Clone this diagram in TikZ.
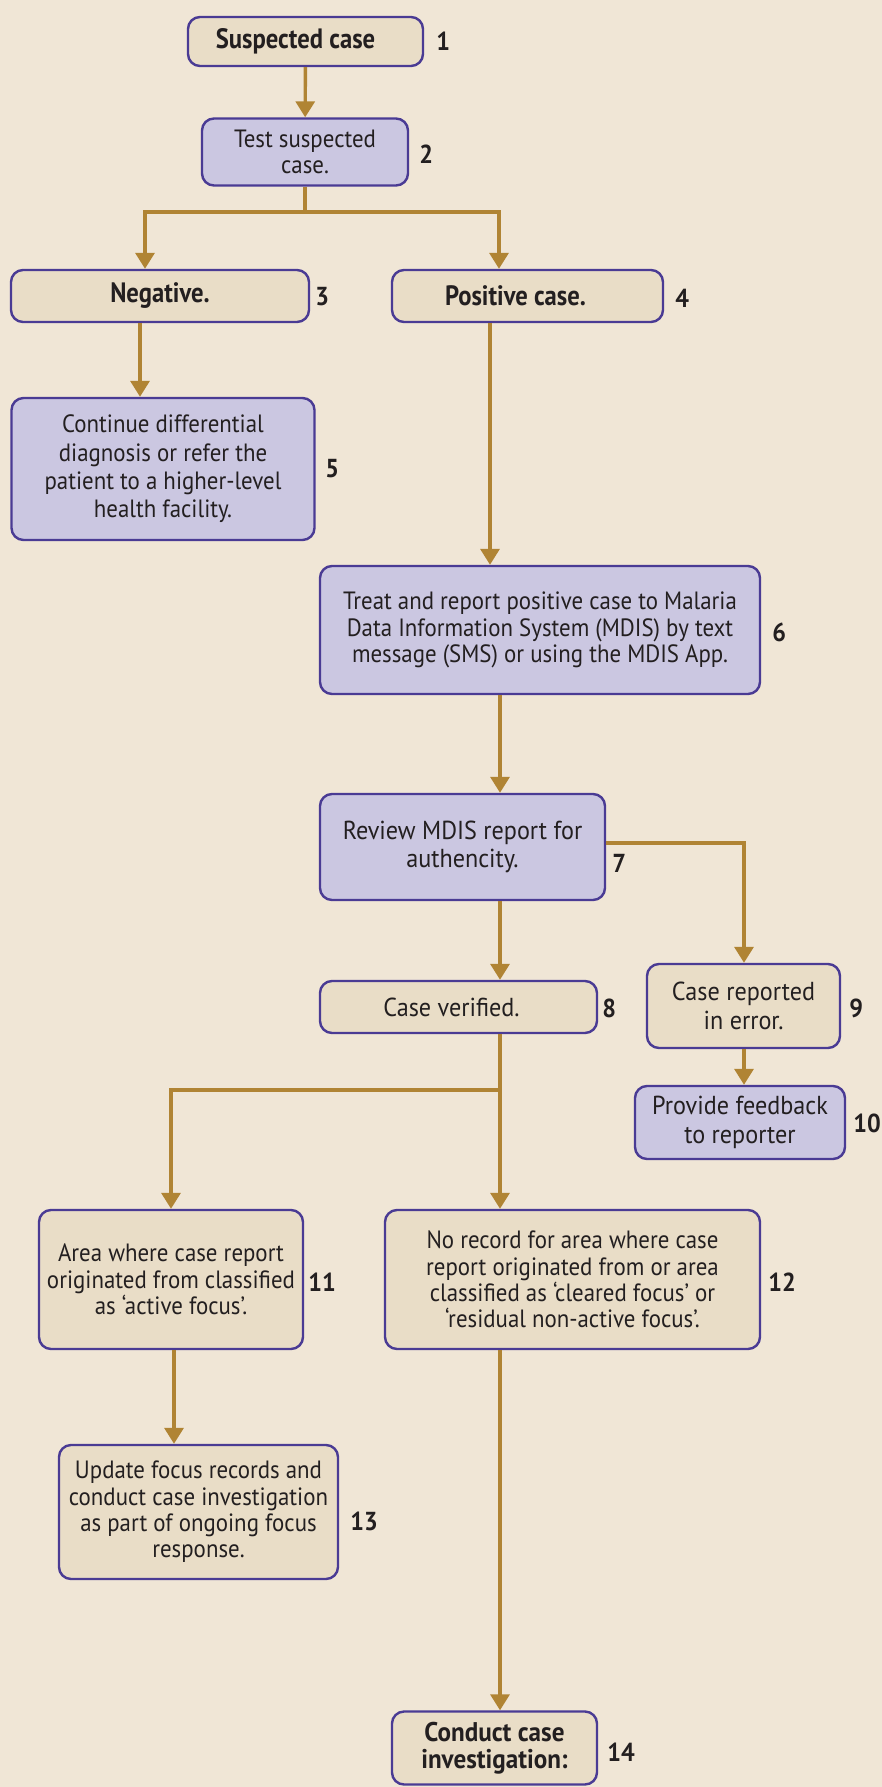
\documentclass[tikz,border=0pt]{standalone}
\usepackage{fontspec}
\setmainfont{PT Sans}
\newfontfamily\condfont[FakeStretch=0.915]{PT Sans}
\newfontfamily\normfont[FakeStretch=0.93]{PT Sans}
\newfontfamily\boldcondfont[FakeStretch=0.88]{PT Sans}
\usetikzlibrary{arrows.meta}

\definecolor{bgcol}{HTML}{F0E6D6}
\definecolor{tanfill}{HTML}{E9DDC7}
\definecolor{lavfill}{HTML}{CBC7E1}
\definecolor{edgecol}{HTML}{4A3B94}
\definecolor{arrowcol}{HTML}{B08434}
\definecolor{inkcol}{HTML}{231F20}

\begin{document}
\begin{tikzpicture}[x=0.5pt,y=-0.5pt,
  box/.style={draw=edgecol, line width=1.2pt, rounded corners=6pt, align=center,
              text=inkcol, inner sep=2pt},
  tanbox/.style={box, fill=tanfill},
  lavbox/.style={box, fill=lavfill},
  cond/.style={font=\condfont\fontsize{12.5}{13.2}\selectfont},
  condbold/.style={font=\boldcondfont\bfseries\fontsize{14}{15}\selectfont},
  norm/.style={font=\normfont\fontsize{13}{14.2}\selectfont},
  normbold/.style={font=\normfont\bfseries\fontsize{13.5}{13.5}\selectfont},
  num/.style={anchor=west, text=inkcol, inner sep=0pt,
              font=\normfont\bfseries\fontsize{13}{14}\selectfont},
  flow/.style={draw=arrowcol, line width=1.7pt},
  arr/.style={flow, -{Triangle[width=9.5pt,length=8pt]}}
]

% page background
\fill[bgcol] (0,0) rectangle (882,1787);
\useasboundingbox (0,0) rectangle (882,1787);

% steps of the flow
\node[tanbox, condbold, minimum width=117.5pt, minimum height=24.5pt] (b1) at (305.5,41.5) {Suspected case\hspace*{10pt}};
\node[lavbox, cond, minimum width=103pt, minimum height=33.5pt] (b2) at (305,152) {Test suspected\\case.};
\node[tanbox, condbold, minimum width=149pt, minimum height=26pt] (b3) at (160,296) {Negative.};
\node[tanbox, condbold, minimum width=135.5pt, minimum height=26pt] (b4) at (527.5,296) {Positive case.\hspace*{12pt}};
\node[lavbox, cond, font=\condfont\fontsize{12.5}{14.2}\selectfont, minimum width=151.5pt, minimum height=71pt] (b5) at (163,469)
  {Continue differential\\diagnosis or refer the\\patient to a higher-level\\health facility.};
\node[lavbox, cond, minimum width=220pt, minimum height=64pt] (b6) at (540,630)
  {Treat and report positive case to Malaria\\Data Information System (MDIS) by text\\message (SMS) or using the MDIS App.};
\node[lavbox, norm, minimum width=142.5pt, minimum height=53pt] (b7) at (462.5,847) {Review MDIS report for\\authencity.};
\node[tanbox, norm, minimum width=138.5pt, minimum height=26pt] (b8) at (458.5,1007) {Case verified.\hspace*{7pt}};
\node[tanbox, norm, minimum width=96.5pt, minimum height=42pt] (b9) at (743.5,1006) {Case reported\\in error.};
\node[lavbox, norm, minimum width=105pt, minimum height=36.5pt] (b10) at (740,1122.5) {Provide feedback\\to reporter};
\node[tanbox, cond, minimum width=132pt, minimum height=69.5pt] (b11) at (171,1279.5)
  {Area where case report\\originated from classified\\as ‘active focus’.};
\node[tanbox, cond, minimum width=187.5pt, minimum height=69.5pt] (b12) at (572.5,1279.5)
  {No record for area where case\\report originated from or area\\classified as ‘cleared focus’ or\\‘residual non-active focus’.};
\node[tanbox, cond, minimum width=139.5pt, minimum height=67pt] (b13) at (198.5,1512)
  {Update focus records and\\conduct case investigation\\as part of ongoing focus\\response.};
\node[tanbox, normbold, minimum width=102.5pt, minimum height=36.5pt] (b14) at (494.5,1748) {Conduct case\\investigation:};

% step numbers
\node[num] (n1) at (436,41) {1};
\node[num] (n2) at (419,154) {2};
\node[num] (n3) at (315,297) {3};
\node[num] (n4) at (675,298) {4};
\node[num] (n5) at (325,469) {5};
\node[num] (n6) at (772,632) {6};
\node[num] (n7) at (612,863) {7};
\node[num] (n8) at (602,1008) {8};
\node[num] (n9) at (849,1008) {9};
\node[num] (n10) at (853,1123) {10};
\node[num] (n11) at (308,1282) {11};
\node[num] (n12) at (768,1282) {12};
\node[num] (n13) at (350,1521) {13};
\node[num] (n14) at (607,1752) {14};

% vertical lanes of the connectors
\coordinate (xa) at (140,0);
\coordinate (xb) at (490,0);
\coordinate (xc) at (500,0);
\coordinate (xd) at (744,0);
\coordinate (xe) at (174,0);
\coordinate (xf) at (171,0);
\coordinate (xg) at (145,0);
\coordinate (xh) at (499,0);
\coordinate (s2) at (305,212);
\coordinate (s8) at (500,1090);

% connectors
\draw[arr] (b1) -- (b2);
\draw[flow] (b2.south) -- (s2);
\draw[arr] (s2) -| (b3.north -| xg);
\draw[arr] (s2) -| (b4.north -| xh);
\draw[arr] (b3.south -| xa) -- (b5.north -| xa);
\draw[arr] (b4.south -| xb) -- (b6.north -| xb);
\draw[arr] (b6.south -| xc) -- (b7.north -| xc);
\draw[arr] ([yshift=2pt]b7.east) -| (b9.north -| xd);
\draw[arr] (b7.south -| xc) -- (b8.north -| xc);
\draw[arr] (b9.south -| xd) -- (b10.north -| xd);
\draw[flow] (b8.south -| xc) -- (s8);
\draw[arr] (s8) -| (b11.north -| xf);
\draw[arr] (s8) -- (b12.north -| xc);
\draw[arr] (b11.south -| xe) -- (b13.north -| xe);
\draw[arr] (b12.south -| xc) -- (b14.north -| xc);

\end{tikzpicture}
\end{document}
